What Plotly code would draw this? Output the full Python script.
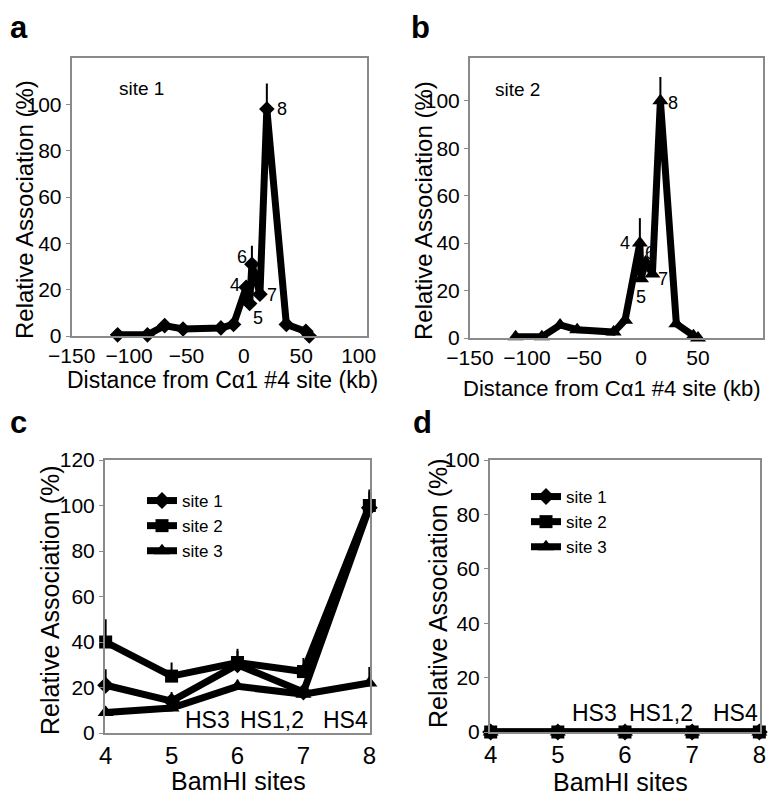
import plotly.graph_objects as go
from plotly.subplots import make_subplots

# panel a / b: distance from Ca1 #4 site (kb) vs relative association (%)
kb_site1 = [-110, -84, -69, -53, -20, -9, 2, 5, 7, 14, 20, 37, 54, 57]
assoc_site1 = [0.5, 0.5, 4.5, 3, 3.5, 5, 21, 14, 31, 18, 98, 5, 2, 0]
err_site1 = [0, 0, 0, 0, 0, 0, 3, 0, 8, 0, 11, 0, 0, 0]

kb_site2 = [-110, -87, -71, -56, -24, -14, -1, 0, 4, 10, 17, 31, 46, 50]
assoc_site2 = [0.5, 0.5, 5.5, 3.5, 2.5, 7.5, 40, 25, 32, 27, 100, 6, 1, 0]
err_site2 = [0, 0, 0, 0, 0, 0, 10.5, 0, 0, 0, 10, 0, 0, 0]

# which points carry a BamHI site number (index into the kb arrays)
site_numbers = ["4", "5", "6", "7", "8"]
site_index = [6, 7, 8, 9, 10]

# panel c / d: BamHI sites
bamhi = [4, 5, 6, 7, 8]
series_names = ["site 1", "site 2", "site 3"]
c_values = [[21, 14, 30, 18, 99],
            [40, 25, 31, 27, 100],
            [9, 11, 20.5, 17, 22]]
c_errors = [[7, 4, 7, 3, 7],
            [10, 6, 5, 6, 7],
            [0, 2, 3, 0, 7]]
d_values = [[0, 0, 0, 0, 0],
            [0, 0, 0, 0, 0],
            [0, 0, 0, 0, 0]]
hs_labels = ["HS3", "HS1,2", "HS4"]
hs_pos = [5.55, 6.53, 7.64]

# the page body keeps its 8px margin, so the figure is made 16px smaller
OFF = 8
W, H = 780 - 2 * OFF, 806 - 2 * OFF
FONT = "Arial, Liberation Sans, sans-serif"
symbols = ["diamond", "square", "triangle-up"]
msizes = [13, 13, 14]
LW = 7

def px(x):
    return (x - OFF) / W

def py(y):
    return 1 - (y - OFF) / H

def dom_x(a, b):
    return [px(a), px(b)]

def dom_y(top, bottom):
    return [py(bottom), py(top)]

fig = make_subplots(rows=2, cols=2)

# panels a and b
for col, xs, ys, errs, sym in [(1, kb_site1, assoc_site1, err_site1, "diamond"),
                               (2, kb_site2, assoc_site2, err_site2, "triangle-up")]:
    fig.add_trace(go.Scatter(
        x=xs, y=ys, mode="lines+markers", showlegend=False, cliponaxis=False,
        line=dict(color="black", width=LW),
        marker=dict(symbol=sym, size=12 if sym == "diamond" else 14, color="black"),
        error_y=dict(type="data", symmetric=False, array=errs, arrayminus=[0] * len(errs),
                     color="black", thickness=2, width=0),
    ), row=1, col=col)

# panel c
for i, name in enumerate(series_names):
    fig.add_trace(go.Scatter(
        x=bamhi, y=c_values[i], mode="lines+markers", name=name, cliponaxis=False,
        legend="legend", legendrank=i,
        line=dict(color="black", width=LW),
        marker=dict(symbol=symbols[i], size=msizes[i], color="black"),
        error_y=dict(type="data", symmetric=False, array=c_errors[i],
                     arrayminus=[0] * 5, color="black", thickness=2, width=0),
    ), row=2, col=1)

# panel d (squares drawn last so they sit on top, as in the figure)
for i in [0, 2, 1]:
    fig.add_trace(go.Scatter(
        x=bamhi, y=d_values[i], mode="lines+markers", name=series_names[i], cliponaxis=False,
        legend="legend2", legendrank=i,
        line=dict(color="black", width=LW),
        marker=dict(symbol=symbols[i], size=msizes[i], color="black"),
    ), row=2, col=2)

axis_common = dict(showline=True, mirror=True, linecolor="#8a8a8a", linewidth=2, automargin=False,
                   showgrid=False, zeroline=False, ticks="outside", ticklen=4,
                   tickcolor="#8a8a8a", tickfont=dict(family=FONT, size=21, color="black"))
xaxis_common = dict(axis_common, ticks="")

kb_ticks = [-150, -100, -50, 0, 50, 100]
fig.update_layout(
    xaxis=dict(xaxis_common, domain=dom_x(71.7, 366.7), range=[-150, 107], tickvals=kb_ticks),
    yaxis=dict(axis_common, domain=dom_y(58, 336), range=[0, 120], tickvals=[0, 20, 40, 60, 80, 100],
               zeroline=True, zerolinecolor="#222", zerolinewidth=2),
    xaxis2=dict(xaxis_common, domain=dom_x(470, 763), range=[-150, 107], tickvals=kb_ticks),
    yaxis2=dict(axis_common, domain=dom_y(58, 338), range=[0, 118], tickvals=[0, 20, 40, 60, 80, 100],
                zeroline=True, zerolinecolor="#222", zerolinewidth=2),
    xaxis3=dict(xaxis_common, domain=dom_x(105, 370), range=[3.99, 8.01], tickvals=bamhi,
                tickfont=dict(family=FONT, size=24, color="black")),
    yaxis3=dict(axis_common, domain=dom_y(460, 733), range=[0, 120], tickvals=[0, 20, 40, 60, 80, 100, 120],
                tickfont=dict(family=FONT, size=21, color="black")),
    xaxis4=dict(xaxis_common, domain=dom_x(490, 760), range=[3.99, 8.01], tickvals=bamhi,
                tickfont=dict(family=FONT, size=24, color="black")),
    yaxis4=dict(axis_common, domain=dom_y(460, 732), range=[0, 100], tickvals=[0, 20, 40, 60, 80, 100],
                tickfont=dict(family=FONT, size=21, color="black")),
)

leg = dict(xanchor="left", yanchor="top", bgcolor="rgba(0,0,0,0)", tracegroupgap=0,
           font=dict(family=FONT, size=17, color="black"), itemwidth=30)
fig.update_layout(
    legend=dict(leg, x=px(142), y=py(483)),
    legend2=dict(leg, x=px(526), y=py(479)),
)

ann = []
# panel letters (kept inside the figure so nothing is clipped)
for letter, lx, ly in [("a", 8, 8), ("b", 409, 8), ("c", 8, 403), ("d", 411, 403)]:
    ann.append(dict(text="<b>%s</b>" % letter, x=px(lx), y=py(ly), xref="paper", yref="paper",
                    xanchor="left", yanchor="top", showarrow=False,
                    font=dict(family=FONT, size=31, color="black")))

# axis titles
ytitle = "Relative Association (%)"
xtitle = "Distance from C\u03b11 #4 site (kb)"
for txt, cx, cy, ang, size in [(ytitle, 24, 210, -90, 24), (ytitle, 423, 211, -90, 24),
                               (ytitle, 50, 600, -90, 25), (ytitle, 438, 593, -90, 25),
                               (xtitle, 223, 380, 0, 23), (xtitle, 612, 388, 0, 22),
                               ("BamHI sites", 238, 781, 0, 25), ("BamHI sites", 620, 782, 0, 25)]:
    ann.append(dict(text=txt, x=px(cx), y=py(cy), xref="paper", yref="paper",
                    xanchor="center", yanchor="middle", textangle=ang, showarrow=False,
                    font=dict(family=FONT, size=size, color="black")))

# "site n" labels in a and b
ann.append(dict(text="site 1", x=px(117), y=py(76), xref="paper", yref="paper",
                showarrow=False, font=dict(family=FONT, size=19, color="black")))
ann.append(dict(text="site 2", x=px(517), y=py(77), xref="paper", yref="paper",
                showarrow=False, font=dict(family=FONT, size=19, color="black")))

# BamHI numbers next to points in a and b
shifts_a = [(-11, 2), (8, -14), (-10, 7), (12, -1), (15, 0)]
shifts_b = [(-15, 0), (0, -18), (4, 9), (11, -5), (13, -2)]
for k, idx in enumerate(site_index):
    ann.append(dict(text=site_numbers[k], x=kb_site1[idx], y=assoc_site1[idx], xref="x", yref="y",
                    showarrow=False, xshift=shifts_a[k][0], yshift=shifts_a[k][1],
                    font=dict(family=FONT, size=18, color="black")))
    ann.append(dict(text=site_numbers[k], x=kb_site2[idx], y=assoc_site2[idx], xref="x2", yref="y2",
                    showarrow=False, xshift=shifts_b[k][0], yshift=shifts_b[k][1],
                    font=dict(family=FONT, size=18, color="black")))

# HS labels in c and d
for lbl, pos in zip(hs_labels, hs_pos):
    ann.append(dict(text=lbl, x=pos, y=0, xref="x3", yref="y3", yanchor="bottom", yshift=-2,
                    showarrow=False, font=dict(family=FONT, size=23, color="black")))
    ann.append(dict(text=lbl, x=pos, y=0, xref="x4", yref="y4", yanchor="bottom", yshift=4,
                    showarrow=False, font=dict(family=FONT, size=23, color="black")))

fig.update_layout(
    template="none",
    width=W, height=H, margin=dict(l=0, r=0, t=0, b=0, autoexpand=False),
    paper_bgcolor="white", plot_bgcolor="white",
    annotations=ann,
    font=dict(family=FONT, color="black"),
)

fig.write_html("out.html")
